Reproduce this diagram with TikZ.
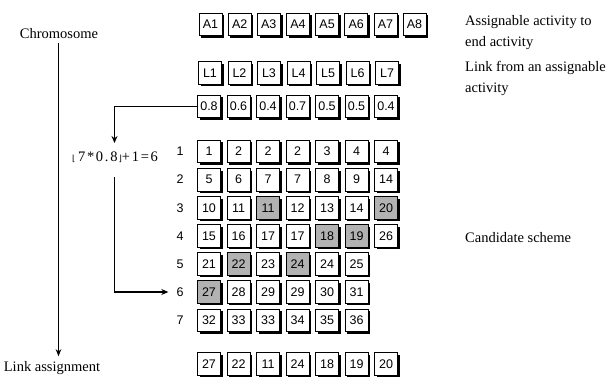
\documentclass[tikz,border=0pt]{standalone}
\usepackage{fontspec}
\setmainfont{Liberation Serif}
\newfontfamily\arialf{Liberation Sans}
\newfontfamily\dvs{DejaVu Sans}
\newfontfamily\spaced[LetterSpace=12]{Liberation Serif}
\usetikzlibrary{shadows,arrows.meta}
\definecolor{shadegray}{RGB}{178,178,178}
\begin{document}
\begin{tikzpicture}[x=1pt,y=-1pt,
  cell/.style={draw=black, line width=0.7pt, fill=white, minimum width=23pt, minimum height=22.5pt,
    inner sep=0pt, font=\arialf\fontsize{12.5}{14}\selectfont,
    drop shadow={fill=black,opacity=1,shadow xshift=2.2pt,shadow yshift=-2.2pt}},
  hit/.style={cell, fill=shadegray},
  lbl/.style={font=\arialf\fontsize{12.5}{14}\selectfont, inner sep=0pt},
  txt/.style={font=\fontsize{14.5}{21}\selectfont, align=left, anchor=west, inner sep=0pt},
  ttl/.style={font=\fontsize{14.5}{17}\selectfont, inner sep=1pt},
  arr/.style={line width=1.5pt, -{Stealth[length=7pt,width=6pt]}},
  thinarr/.style={line width=0.8pt, -{Stealth[length=7pt,width=5.5pt]}}]
\useasboundingbox (0,0) rectangle (611,376);

% chromosome axis
\node[ttl] (chr) at (59,34) {Chromosome};
\node[ttl] (link) at (52,368) {Link assignment};
\draw[thinarr, shorten <=3pt, shorten >=4pt] (chr.south -| 58.5,0) -- (58.5,0 |- link.north);

% A row
\foreach \i in {1,...,8}
  \node[cell] (a\i) at ({210.5+29.15*(\i-1)},24.5) {A\i};
% L row
\foreach \i in {1,...,7}
  \node[cell] (l\i) at ({210+29.5*(\i-1)},73) {L\i};
% value row
\foreach \v [count=\i] in {0.8,0.6,0.4,0.7,0.5,0.5,0.4}
  \node[cell] (v\i) at ({209+29.5*(\i-1)},106.5) {\v};

% candidate grid
\foreach \row [count=\r] in {
  {1/cell,2/cell,2/cell,2/cell,3/cell,4/cell,4/cell},
  {5/cell,6/cell,7/cell,7/cell,8/cell,9/cell,14/cell},
  {10/cell,11/cell,11/hit,12/cell,13/cell,14/cell,20/hit},
  {15/cell,16/cell,17/cell,17/cell,18/hit,19/hit,26/cell},
  {21/cell,22/hit,23/cell,24/hit,24/cell,25/cell},
  {27/hit,28/cell,29/cell,29/cell,30/cell,31/cell},
  {32/cell,33/cell,33/cell,34/cell,35/cell,36/cell}} {
  \node[lbl] (r\r) at (180,{151.5+28.1*(\r-1)}) {\r};
  \foreach \v/\s [count=\c] in \row
    \node[\s] (g\r-\c) at ({209+29.5*(\c-1)},{151.5+28.1*(\r-1)}) {\v};
}

% result row
\foreach \v [count=\i] in {27,22,11,24,18,19,20}
  \node[cell] (res\i) at ({209+29.5*(\i-1)},364) {\v};

% formula and arrows
\node[inner sep=0pt, anchor=west, font=\fontsize{14.5}{17}\selectfont] (f) at (72,157)
  {{\dvs\fontsize{8.5}{10}\selectfont ⌊}\kern2.5pt{\spaced 7*0.8}\kern1pt{\dvs\fontsize{8.5}{10}\selectfont ⌋}{\spaced +1=6}};
\coordinate (ftop) at (114.5,143);
\coordinate (fbot) at (114.5,177);
\draw[arr] (v1.west) -| (ftop);
\draw[arr, shorten >=8pt] (fbot) |- (r6.west);

% right-hand texts
\node[txt] (t1) at (465,32.5) {Assignable activity to\\end activity};
\node[txt] (t2) at (465,78.5) {Link from an assignable\\activity};
\node[txt] (t3) at (465,238) {Candidate scheme};
\end{tikzpicture}
\end{document}
